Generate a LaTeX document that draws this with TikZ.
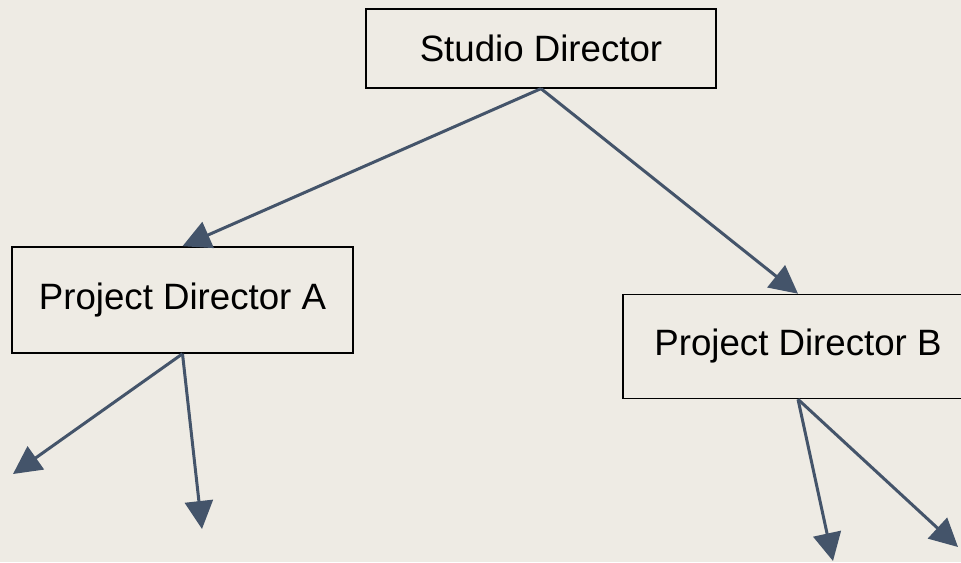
\documentclass[tikz,border=0pt]{standalone}
\usepackage{fontspec}
\setmainfont{Liberation Sans}
\usetikzlibrary{arrows.meta}
\definecolor{paper}{HTML}{EEEBE4}
\definecolor{slate}{HTML}{44546A}
\begin{document}
\begin{tikzpicture}[x=0.75pt,y=-0.75pt,
  rolebox/.style={draw=black,line width=1.2pt,fill=paper,inner sep=0pt,
    font=\fontsize{27.5pt}{33pt}\selectfont},
  link/.style={draw=slate,line width=2.25pt,
    -{Triangle[length=21pt,width=21pt]}}]
  % page background
  \fill[paper] (0,0) rectangle (961,562);
  \useasboundingbox (0,0) rectangle (961,562);

  % role boxes
  \node[rolebox,minimum width=262.5pt,minimum height=59pt] (sd) at (541,48.5) {Studio Director};
  \node[rolebox,minimum width=255.75pt,minimum height=79.5pt] (pa) at (182.5,300) {Project Director A};
  \node[rolebox,minimum width=262.5pt,minimum height=78pt] (pb) at (798,346.5) {Project Director B};

  % free ends of the lower arrows
  \coordinate (a1) at (13,474);
  \coordinate (a2) at (202,529);
  \coordinate (b1) at (833,561);
  \coordinate (b2) at (958,547);

  % reporting lines
  \draw[link] (sd.south) -- (pa.north);
  \draw[link] (sd.south) -- (pb.north);
  \draw[link] (pa.south) -- (a1);
  \draw[link] (pa.south) -- (a2);
  \draw[link] (pb.south) -- (b1);
  \draw[link] (pb.south) -- (b2);
\end{tikzpicture}
\end{document}
